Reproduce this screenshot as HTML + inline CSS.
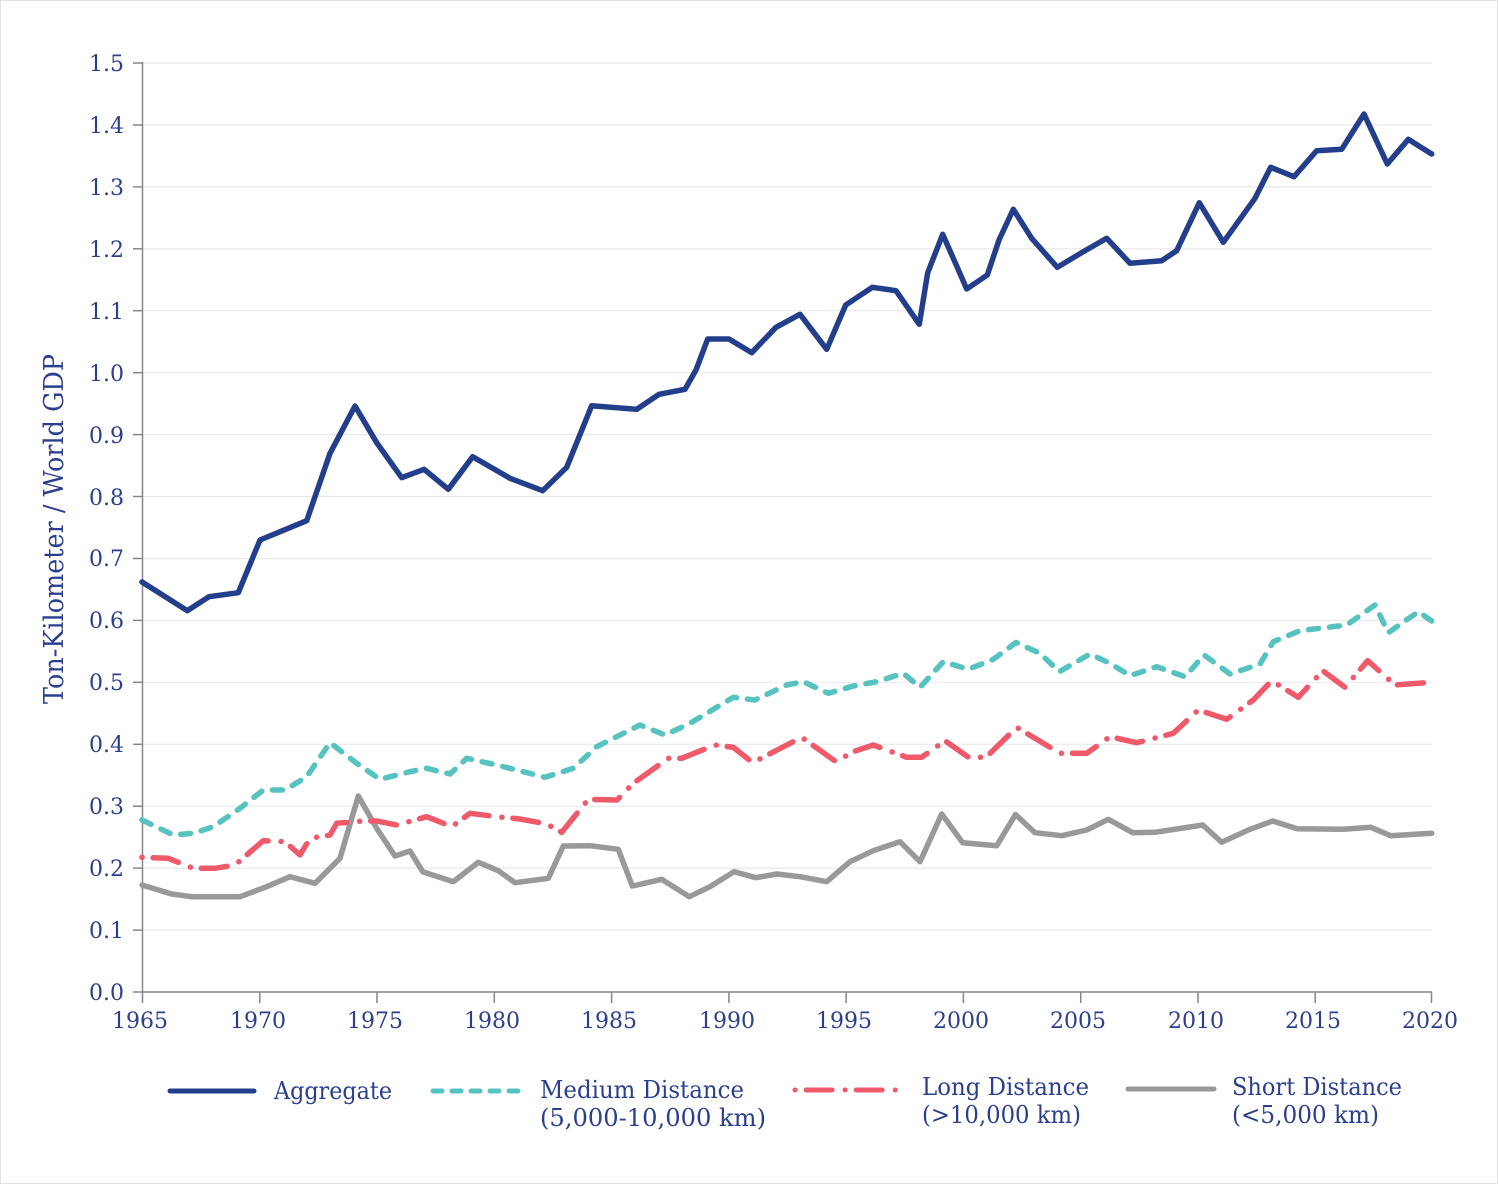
<!DOCTYPE html>
<html>
<head>
<meta charset="utf-8">
<style>
  html,body{margin:0;padding:0;background:#fff;}
  svg{display:block;}
  text{font-family:"DejaVu Serif","Liberation Serif",serif;fill:#2a3f8e;}
</style>
</head>
<body>
<svg width="1500" height="1184" viewBox="0 0 1500 1184" xmlns="http://www.w3.org/2000/svg">
  <rect x="0" y="0" width="1500" height="1184" fill="#ffffff"/>
  <rect x="0.5" y="0.5" width="1497" height="1183" fill="none" stroke="#e2e2e2" stroke-width="1"/>

  <!-- gridlines -->
  <g stroke="#e9e9e9" stroke-width="1.2">
    <line x1="142" y1="63" x2="1432" y2="63"/>
    <line x1="142" y1="125" x2="1432" y2="125"/>
    <line x1="142" y1="186.9" x2="1432" y2="186.9"/>
    <line x1="142" y1="248.8" x2="1432" y2="248.8"/>
    <line x1="142" y1="310.7" x2="1432" y2="310.7"/>
    <line x1="142" y1="372.7" x2="1432" y2="372.7"/>
    <line x1="142" y1="434.6" x2="1432" y2="434.6"/>
    <line x1="142" y1="496.5" x2="1432" y2="496.5"/>
    <line x1="142" y1="558.5" x2="1432" y2="558.5"/>
    <line x1="142" y1="620.4" x2="1432" y2="620.4"/>
    <line x1="142" y1="682.3" x2="1432" y2="682.3"/>
    <line x1="142" y1="744.3" x2="1432" y2="744.3"/>
    <line x1="142" y1="806.2" x2="1432" y2="806.2"/>
    <line x1="142" y1="868.1" x2="1432" y2="868.1"/>
    <line x1="142" y1="930.1" x2="1432" y2="930.1"/>
  </g>

  <!-- axes -->
  <g stroke="#85868f" stroke-width="1.5" fill="none">
    <line x1="142.5" y1="62" x2="142.5" y2="992"/>
    <line x1="133" y1="992" x2="1432" y2="992"/>
    <line x1="133" y1="63" x2="142" y2="63"/>
    <line x1="133" y1="125" x2="142" y2="125"/>
    <line x1="133" y1="186.9" x2="142" y2="186.9"/>
    <line x1="133" y1="248.8" x2="142" y2="248.8"/>
    <line x1="133" y1="310.7" x2="142" y2="310.7"/>
    <line x1="133" y1="372.7" x2="142" y2="372.7"/>
    <line x1="133" y1="434.6" x2="142" y2="434.6"/>
    <line x1="133" y1="496.5" x2="142" y2="496.5"/>
    <line x1="133" y1="558.5" x2="142" y2="558.5"/>
    <line x1="133" y1="620.4" x2="142" y2="620.4"/>
    <line x1="133" y1="682.3" x2="142" y2="682.3"/>
    <line x1="133" y1="744.3" x2="142" y2="744.3"/>
    <line x1="133" y1="806.2" x2="142" y2="806.2"/>
    <line x1="133" y1="868.1" x2="142" y2="868.1"/>
    <line x1="133" y1="930.1" x2="142" y2="930.1"/>
    <line x1="142.5" y1="992" x2="142.5" y2="1003"/>
    <line x1="259.8" y1="992" x2="259.8" y2="1003"/>
    <line x1="377" y1="992" x2="377" y2="1003"/>
    <line x1="494.3" y1="992" x2="494.3" y2="1003"/>
    <line x1="611.6" y1="992" x2="611.6" y2="1003"/>
    <line x1="728.9" y1="992" x2="728.9" y2="1003"/>
    <line x1="846.1" y1="992" x2="846.1" y2="1003"/>
    <line x1="963.4" y1="992" x2="963.4" y2="1003"/>
    <line x1="1080.7" y1="992" x2="1080.7" y2="1003"/>
    <line x1="1198" y1="992" x2="1198" y2="1003"/>
    <line x1="1315.2" y1="992" x2="1315.2" y2="1003"/>
    <line x1="1431.5" y1="992" x2="1431.5" y2="1003"/>
  </g>

  <!-- y labels -->
  <g font-size="22" text-anchor="end">
    <text x="124" y="71">1.5</text>
    <text x="124" y="133">1.4</text>
    <text x="124" y="195">1.3</text>
    <text x="124" y="257">1.2</text>
    <text x="124" y="319">1.1</text>
    <text x="124" y="381">1.0</text>
    <text x="124" y="443">0.9</text>
    <text x="124" y="505">0.8</text>
    <text x="124" y="566">0.7</text>
    <text x="124" y="628">0.6</text>
    <text x="124" y="690">0.5</text>
    <text x="124" y="752">0.4</text>
    <text x="124" y="814">0.3</text>
    <text x="124" y="876">0.2</text>
    <text x="124" y="938">0.1</text>
    <text x="124" y="1000">0.0</text>
  </g>

  <!-- x labels -->
  <g font-size="22" text-anchor="middle">
    <text x="140" y="1028">1965</text>
    <text x="258" y="1028">1970</text>
    <text x="375" y="1028">1975</text>
    <text x="492" y="1028">1980</text>
    <text x="609" y="1028">1985</text>
    <text x="727" y="1028">1990</text>
    <text x="844" y="1028">1995</text>
    <text x="961" y="1028">2000</text>
    <text x="1078" y="1028">2005</text>
    <text x="1196" y="1028">2010</text>
    <text x="1313" y="1028">2015</text>
    <text x="1430" y="1028">2020</text>
  </g>

  <!-- y title -->
  <text x="0" y="0" font-size="27" text-anchor="middle" textLength="350" lengthAdjust="spacingAndGlyphs" transform="translate(63,529) rotate(-90)">Ton-Kilometer / World GDP</text>

  <!-- series -->
  <g fill="none" stroke-width="5.5" stroke-linejoin="round" stroke-linecap="round">
    <polyline stroke="#999999" points="142,885 171.7,894 191.7,896.7 240,896.7 266.7,886.7 290,876.7 315,883.3 340,858.3 358.3,796 376.7,828.3 395,856 410,851 422.7,871.7 453.3,881.7 478.3,862.3 498.3,870.7 515,882.7 548.3,878.3 563.3,846 590,845.7 618.3,849.3 632.3,886 661.7,879.3 689.3,896.7 710,886.7 734,871.7 756,877.7 776.7,874 800,876.7 826.7,881.7 850,861.7 873.3,850.7 900,841.7 920,861.7 941.7,814 962.7,842.7 996.7,845.7 1015.5,814.5 1035,832.7 1061.7,835.7 1086.7,830 1108.3,819.3 1132.7,832.7 1155,832.3 1202.7,825 1221.7,842.3 1250,829.3 1272.7,821 1297.3,828.7 1343.3,829.3 1370.7,827.3 1390.7,835.7 1431.7,833.3"/>
    <polyline stroke="#ef5a6b" stroke-dasharray="0.1 11 26 13" points="142,857.3 168.3,858.3 193.3,868.3 215,868.3 235,865 263.3,840.7 285,841.7 300,855 310,838.3 330,835 336.7,823.3 363.3,821 376.7,821 396.7,825 426.7,816.7 451.7,826.7 470,813.3 496.7,816.7 520,819 546.7,824 561.7,832.3 588.3,799.3 617,800 633.3,783.3 668.3,758.3 681.7,758.3 715,745 733.3,747.3 752.7,762.7 801.7,737.3 836,761.7 853.3,751.7 873.3,745 906.7,757.3 921.7,757.3 945,740.7 970,758.3 986.7,756.7 1016.7,727.3 1060,753.3 1086.7,753.3 1110,736.7 1136.7,742.7 1173.3,733.3 1198.3,710 1226.7,719.3 1253.3,700 1271.7,680.7 1298.3,697.3 1322.7,670.7 1345,687.3 1367.7,660.7 1395,685 1431.7,682.3"/>
    <polyline stroke="#56c3c0" stroke-dasharray="10 11" points="142,820 173.3,835 193.3,833.3 213.3,826.7 240,808.3 263.3,790 285,790 306.7,776.7 330,742.7 356.7,763.3 380,779.3 410,771.7 426.7,768.3 450,774 466.7,758.3 496.7,765 523.3,771.7 545,777.3 573.3,768.3 596.7,746.7 640,725 665,735 690,723.3 733.3,697.3 755,700 786.7,685 803.3,681.7 828.3,693.3 853.3,686 876.7,681.7 903.3,673.3 920,687.3 943.3,661.7 968.3,669.3 993.3,659.3 1016,642.5 1040,653.3 1059.3,671.7 1090,654 1110,663.3 1130,675.7 1156.7,666.7 1185,676.7 1204,655 1230,674 1260,664 1273.3,641.7 1300,630.7 1346.7,625 1375,605 1388.3,632.7 1418.3,611.7 1431.7,621"/>
    <polyline stroke="#233f8b" points="142,582 187.3,610.7 209,596.7 238.3,592.7 260,540 306.7,520.7 330,453.3 355,406 376.7,442.7 401.7,477.7 424,469.3 448.3,489.3 472.7,456.7 510,478.3 542.7,490.7 566.7,467.3 591.7,405.7 636.7,409.3 659,394.3 685,389.3 696,370 707.7,339 729,339 751.7,352.7 776,327.3 800,314.3 826.7,349.3 845.7,305 872.3,287.3 896,290.7 919.3,324.3 927.7,272.7 942.7,234.3 957.7,268.3 966.7,289 987.3,275 999,240 1013.3,209.3 1031.7,238.3 1057.3,267.3 1083.3,251.7 1106.7,238.3 1130,263.3 1161.7,260.7 1176.7,250.7 1199.3,202.7 1223.3,242.3 1255,198.3 1270.7,167.3 1294,176.7 1316.7,150.7 1341.7,149.3 1364,114 1387.3,164 1408.3,139.3 1431.7,154"/>
  </g>

  <!-- legend -->
  <g fill="none" stroke-width="5" stroke-linecap="round">
    <line x1="170" y1="1091" x2="254" y2="1091" stroke="#233f8b"/>
    <line x1="433" y1="1091" x2="522" y2="1091" stroke="#56c3c0" stroke-dasharray="9 10"/>
    <line x1="795" y1="1090" x2="896" y2="1090" stroke="#ef5a6b" stroke-dasharray="0.1 11 26 13"/>
    <line x1="1128" y1="1089" x2="1214" y2="1089" stroke="#999999"/>
  </g>
  <g font-size="24">
    <text x="274" y="1099" textLength="118" lengthAdjust="spacingAndGlyphs">Aggregate</text>
    <text x="540" y="1098" textLength="204" lengthAdjust="spacingAndGlyphs">Medium Distance</text>
    <text x="540" y="1126" textLength="226" lengthAdjust="spacingAndGlyphs">(5,000-10,000 km)</text>
    <text x="922" y="1095" textLength="167" lengthAdjust="spacingAndGlyphs">Long Distance</text>
    <text x="922" y="1123" textLength="159" lengthAdjust="spacingAndGlyphs">(&gt;10,000 km)</text>
    <text x="1232" y="1095" textLength="170" lengthAdjust="spacingAndGlyphs">Short Distance</text>
    <text x="1232" y="1123" textLength="147" lengthAdjust="spacingAndGlyphs">(&lt;5,000 km)</text>
  </g>
</svg>
</body>
</html>
